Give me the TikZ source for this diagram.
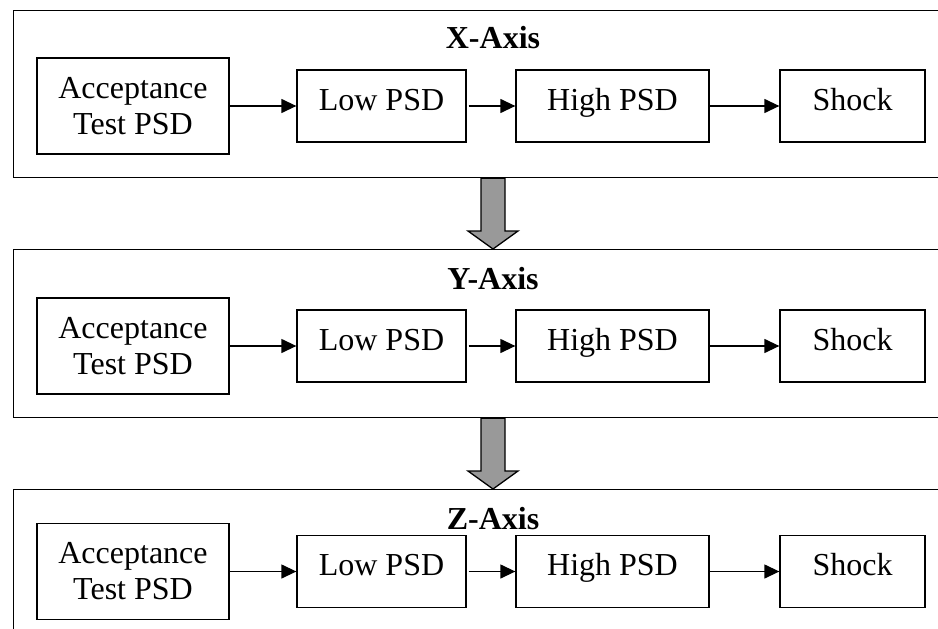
\documentclass[tikz,border=0pt]{standalone}
\usepackage{fontspec}
\setmainfont{Liberation Serif}
\usetikzlibrary{arrows.meta,calc}

\tikzset{
  panel/.style={draw, line width=1.3pt, anchor=north west, minimum width=1000pt, inner sep=0pt},
  boxbase/.style={draw, line width=1.3pt, inner sep=0pt,
    font=\fontsize{32}{36}\selectfont, align=center},
  stagebox/.style={boxbase, minimum height=72pt, text height=22pt, text depth=14pt},
  widebox/.style={boxbase, minimum height=96pt},
  axistitle/.style={font=\fontsize{32}{36}\selectfont\bfseries, inner sep=0pt},
  flow/.style={line width=1.3pt, -{Triangle[length=15pt,width=14pt]}},
  blockarrow/.style={draw, line width=1.3pt, fill=black!40, line join=miter}
}

\begin{document}
\begin{tikzpicture}[x=1pt, y=-1pt]
  \useasboundingbox (0,0) rectangle (938,629);
  \clip (0,0) rectangle (938,629);
  \fill[white] (0,0) rectangle (938,629);

  % axis panels (run past the right and bottom edges)
  \node[panel, minimum height=167pt] (pX) at (13,10) {};
  \node[panel, minimum height=168pt] (pY) at (13,249) {};
  \node[panel, minimum height=200pt] (pZ) at (13,489) {};

  % titles
  \node[axistitle] (tX) at (493,38) {X-Axis};
  \node[axistitle] (tY) at (493,279) {Y-Axis};
  \node[axistitle] (tZ) at (493,519) {Z-Axis};

  % one row of test stages per axis
  \foreach \ax/\yc in {X/106, Y/346, Z/571.5} {
    \node[widebox, minimum width=192pt] (acc\ax) at (133,\yc) {Acceptance\\Test PSD};
    \node[stagebox, minimum width=169pt] (low\ax) at (381.5,\yc) {Low PSD};
    \node[stagebox, minimum width=193pt] (high\ax) at (612.5,\yc) {High PSD};
    \node[stagebox, minimum width=145pt] (shock\ax) at (852.5,\yc) {Shock};
    \draw[flow] (acc\ax) -- (low\ax);
    \draw[flow, shorten <=2pt] (low\ax) -- (high\ax);
    \draw[flow] (high\ax) -- (shock\ax);
  }

  % block arrows from one panel to the next
  \foreach \a/\b in {X/Y, Y/Z} {
    \draw[blockarrow] let \p1=(t\a |- p\a.south), \p2=(t\b |- p\b.north) in
      (\x1-12pt,\y1) -- (\x1+12pt,\y1) -- (\x1+12pt,\y2+18pt) -- (\x1+25pt,\y2+18pt)
      -- (\x1,\y2) -- (\x1-25pt,\y2+18pt) -- (\x1-12pt,\y2+18pt) -- cycle;
  }
\end{tikzpicture}
\end{document}
